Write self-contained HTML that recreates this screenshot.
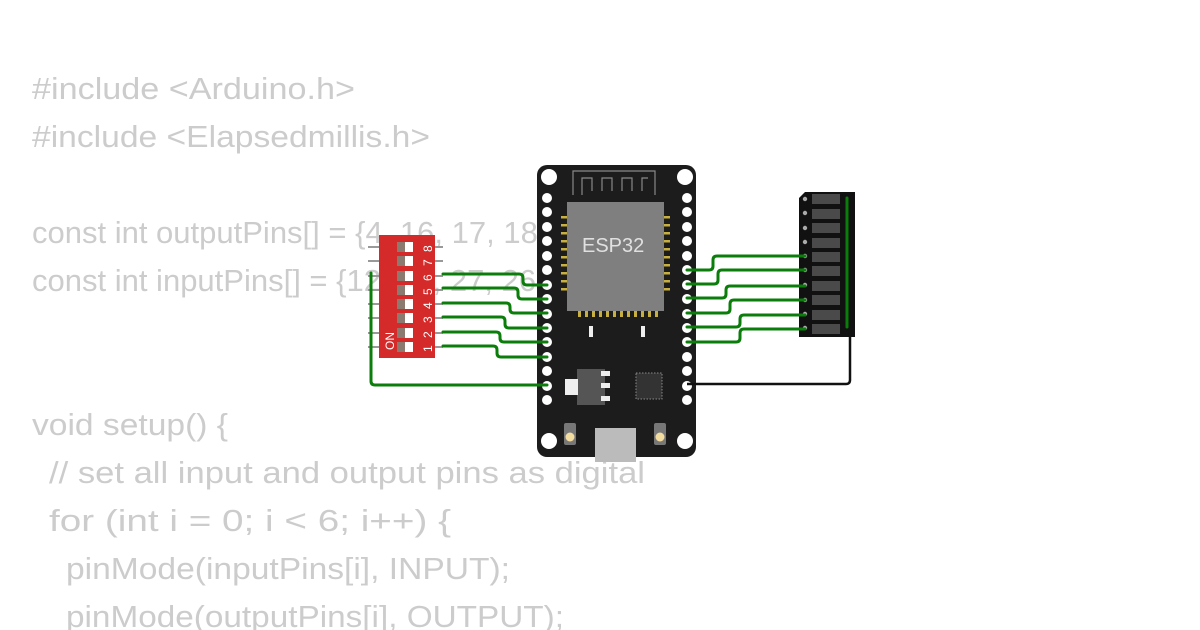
<!DOCTYPE html>
<html><head><style>
html,body{margin:0;padding:0;background:#fff;}
svg{display:block}
.c{font-family:"Liberation Sans",sans-serif;font-size:31px;fill:#cccccc;}
</style></head><body>
<svg width="1200" height="630" viewBox="0 0 1200 630" xmlns="http://www.w3.org/2000/svg">
<g class="c">
<text x="32" y="99" textLength="323" lengthAdjust="spacingAndGlyphs">#include &lt;Arduino.h&gt;</text>
<text x="32" y="147" textLength="398" lengthAdjust="spacingAndGlyphs">#include &lt;Elapsedmillis.h&gt;</text>
<text x="32" y="243">const int outputPins[] = {4, 16, 17, 18, 19, 21};</text>
<text x="32" y="291">const int inputPins[] = {12, 14, 27, 26, 25, 33};</text>
<text x="32" y="435" textLength="196" lengthAdjust="spacingAndGlyphs">void setup() {</text>
<text x="49" y="483" textLength="596" lengthAdjust="spacingAndGlyphs">// set all input and output pins as digital</text>
<text x="49" y="531" textLength="402" lengthAdjust="spacingAndGlyphs">for (int i = 0; i &lt; 6; i++) {</text>
<text x="66" y="579" textLength="444" lengthAdjust="spacingAndGlyphs">pinMode(inputPins[i], INPUT);</text>
<text x="66" y="627" textLength="498" lengthAdjust="spacingAndGlyphs">pinMode(outputPins[i], OUTPUT);</text>
</g>

<!-- DIP switch -->
<g stroke="#999" stroke-width="2">
<line x1="368" y1="247" x2="443" y2="247"/><line x1="368" y1="261" x2="443" y2="261"/>
<line x1="368" y1="276" x2="443" y2="276"/><line x1="368" y1="290" x2="443" y2="290"/>
<line x1="368" y1="304" x2="443" y2="304"/><line x1="368" y1="318" x2="443" y2="318"/>
<line x1="368" y1="333" x2="443" y2="333"/><line x1="368" y1="347" x2="443" y2="347"/>
</g>
<rect x="379" y="235" width="56" height="123" fill="#d42a2a"/>
<g fill="#8a7a70">
<rect x="397" y="242" width="8" height="10"/><rect x="397" y="256" width="8" height="10"/>
<rect x="397" y="271" width="8" height="10"/><rect x="397" y="285" width="8" height="10"/>
<rect x="397" y="299" width="8" height="10"/><rect x="397" y="313" width="8" height="10"/>
<rect x="397" y="328" width="8" height="10"/><rect x="397" y="342" width="8" height="10"/>
</g>
<g fill="#fff">
<rect x="405" y="242" width="8" height="10"/><rect x="405" y="256" width="8" height="10"/>
<rect x="405" y="271" width="8" height="10"/><rect x="405" y="285" width="8" height="10"/>
<rect x="405" y="299" width="8" height="10"/><rect x="405" y="313" width="8" height="10"/>
<rect x="405" y="328" width="8" height="10"/><rect x="405" y="342" width="8" height="10"/>
</g>
<g font-family="Liberation Sans,sans-serif" font-size="12" fill="#fff">
<text transform="translate(432,252) rotate(-90)">8</text>
<text transform="translate(432,266) rotate(-90)">7</text>
<text transform="translate(432,281) rotate(-90)">6</text>
<text transform="translate(432,295) rotate(-90)">5</text>
<text transform="translate(432,309) rotate(-90)">4</text>
<text transform="translate(432,323) rotate(-90)">3</text>
<text transform="translate(432,338) rotate(-90)">2</text>
<text transform="translate(432,352) rotate(-90)">1</text>
<text transform="translate(394,350) rotate(-90)">ON</text>
</g>

<!-- ESP32 board -->
<rect x="537" y="165" width="159" height="292" rx="10" fill="#1c1c1c"/>
<g fill="#fff">
<circle cx="549" cy="177" r="8"/><circle cx="685" cy="177" r="8"/>
<circle cx="549" cy="441" r="8"/><circle cx="685" cy="441" r="8"/>
</g>
<path d="M573 195 V171 H655 V195 M582 195 V178 H592 V191 M602 191 V178 H612 V191 M622 191 V178 H632 V191 M642 191 V178 H648" stroke="#888" stroke-width="1.2" fill="none"/>
<rect x="567" y="202" width="97" height="109" fill="#7f7f7f"/>
<g fill="#c8b040">
<rect x="561" y="216" width="6" height="2.5"/><rect x="561" y="224" width="6" height="2.5"/><rect x="561" y="232" width="6" height="2.5"/><rect x="561" y="240" width="6" height="2.5"/><rect x="561" y="248" width="6" height="2.5"/><rect x="561" y="256" width="6" height="2.5"/><rect x="561" y="264" width="6" height="2.5"/><rect x="561" y="272" width="6" height="2.5"/><rect x="561" y="280" width="6" height="2.5"/><rect x="561" y="288" width="6" height="2.5"/>
<rect x="664" y="216" width="6" height="2.5"/><rect x="664" y="224" width="6" height="2.5"/><rect x="664" y="232" width="6" height="2.5"/><rect x="664" y="240" width="6" height="2.5"/><rect x="664" y="248" width="6" height="2.5"/><rect x="664" y="256" width="6" height="2.5"/><rect x="664" y="264" width="6" height="2.5"/><rect x="664" y="272" width="6" height="2.5"/><rect x="664" y="280" width="6" height="2.5"/><rect x="664" y="288" width="6" height="2.5"/>
<rect x="578" y="311" width="3" height="6"/><rect x="585" y="311" width="3" height="6"/><rect x="592" y="311" width="3" height="6"/><rect x="599" y="311" width="3" height="6"/><rect x="606" y="311" width="3" height="6"/><rect x="613" y="311" width="3" height="6"/><rect x="620" y="311" width="3" height="6"/><rect x="627" y="311" width="3" height="6"/><rect x="634" y="311" width="3" height="6"/><rect x="641" y="311" width="3" height="6"/><rect x="648" y="311" width="3" height="6"/><rect x="655" y="311" width="3" height="6"/>
</g>
<text x="582" y="252" font-family="Liberation Sans,sans-serif" font-size="20" fill="#e0e0e0">ESP32</text>
<rect x="589" y="326" width="4" height="11" fill="#eee"/><rect x="641" y="326" width="4" height="11" fill="#eee"/>
<rect x="577" y="369" width="28" height="36" fill="#555"/><rect x="565" y="379" width="13" height="16" fill="#eee"/>
<rect x="601" y="371" width="9" height="5" fill="#eee"/><rect x="601" y="383" width="9" height="5" fill="#eee"/><rect x="601" y="396" width="9" height="5" fill="#eee"/>
<rect x="636" y="373" width="26" height="26" fill="#333" stroke="#888" stroke-width="1" stroke-dasharray="1.5,1.5"/>
<rect x="564" y="423" width="12" height="22" rx="2" fill="#777"/><circle cx="570" cy="437" r="4.5" fill="#f3dca0"/>
<rect x="654" y="423" width="12" height="22" rx="2" fill="#777"/><circle cx="660" cy="437" r="4.5" fill="#f3dca0"/>
<rect x="595" y="428" width="41" height="34" fill="#bbb"/>
<g fill="#fff">
<circle cx="547" cy="198" r="5"/><circle cx="547" cy="212" r="5"/><circle cx="547" cy="227" r="5"/><circle cx="547" cy="241" r="5"/><circle cx="547" cy="256" r="5"/><circle cx="547" cy="270" r="5"/><circle cx="547" cy="285" r="5"/><circle cx="547" cy="299" r="5"/><circle cx="547" cy="314" r="5"/><circle cx="547" cy="328" r="5"/><circle cx="547" cy="342" r="5"/><circle cx="547" cy="357" r="5"/><circle cx="547" cy="371" r="5"/><circle cx="547" cy="386" r="5"/><circle cx="547" cy="400" r="5"/>
<circle cx="687" cy="198" r="5"/><circle cx="687" cy="212" r="5"/><circle cx="687" cy="227" r="5"/><circle cx="687" cy="241" r="5"/><circle cx="687" cy="256" r="5"/><circle cx="687" cy="270" r="5"/><circle cx="687" cy="285" r="5"/><circle cx="687" cy="299" r="5"/><circle cx="687" cy="314" r="5"/><circle cx="687" cy="328" r="5"/><circle cx="687" cy="342" r="5"/><circle cx="687" cy="357" r="5"/><circle cx="687" cy="371" r="5"/><circle cx="687" cy="386" r="5"/><circle cx="687" cy="400" r="5"/>
</g>

<!-- Bar graph -->
<path d="M805 192 H855 V337 H799 V198 Z" fill="#111"/>
<g fill="#4a4a4a">
<rect x="812" y="194" width="28" height="10"/><rect x="812" y="209" width="28" height="10"/><rect x="812" y="223" width="28" height="10"/><rect x="812" y="238" width="28" height="10"/><rect x="812" y="252" width="28" height="10"/><rect x="812" y="266" width="28" height="10"/><rect x="812" y="281" width="28" height="10"/><rect x="812" y="295" width="28" height="10"/><rect x="812" y="310" width="28" height="10"/><rect x="812" y="324" width="28" height="10"/>
</g>
<g fill="#aaa">
<circle cx="805" cy="199" r="2.2"/><circle cx="805" cy="213" r="2.2"/><circle cx="805" cy="228" r="2.2"/><circle cx="805" cy="242" r="2.2"/><circle cx="805" cy="256" r="2.2"/><circle cx="805" cy="270" r="2.2"/><circle cx="805" cy="285" r="2.2"/><circle cx="805" cy="300" r="2.2"/><circle cx="805" cy="314" r="2.2"/><circle cx="805" cy="328" r="2.2"/>
</g>

<!-- wires -->
<g stroke="#0b7d0b" stroke-width="3" fill="none" stroke-linecap="round">
<path d="M443 274 H519 Q523 274 523 278 V281 Q523 285 527 285 H547"/>
<path d="M443 288 H514 Q518 288 518 292 V295 Q518 299 522 299 H547"/>
<path d="M443 303 H506 Q510 303 510 307 V309 Q510 313 514 313 H547"/>
<path d="M443 317 H501 Q505 317 505 321 V324 Q505 328 509 328 H547"/>
<path d="M443 332 H496 Q500 332 500 336 V338 Q500 342 504 342 H547"/>
<path d="M443 346 H493 Q497 346 497 350 V353 Q497 357 501 357 H547"/>
<path d="M371 273 V381 Q371 385 375 385 H547"/>
<path d="M687 270 H709 Q713 270 713 266 V260 Q713 256 717 256 H805"/>
<path d="M687 284 H714 Q718 284 718 280 V274 Q718 270 722 270 H805"/>
<path d="M687 298 H722 Q726 298 726 294 V290 Q726 286 730 286 H805"/>
<path d="M687 313 H726 Q730 313 730 309 V304 Q730 300 734 300 H805"/>
<path d="M687 327 H736 Q740 327 740 323 V319 Q740 315 744 315 H805"/>
<path d="M687 342 H736 Q740 342 740 338 V333 Q740 329 744 329 H805"/>
<path d="M847 198 V327"/>
</g>
<path d="M850 330 V380 Q850 384 846 384 H687" stroke="#111" stroke-width="2.5" fill="none"/>
</svg>
</body></html>
